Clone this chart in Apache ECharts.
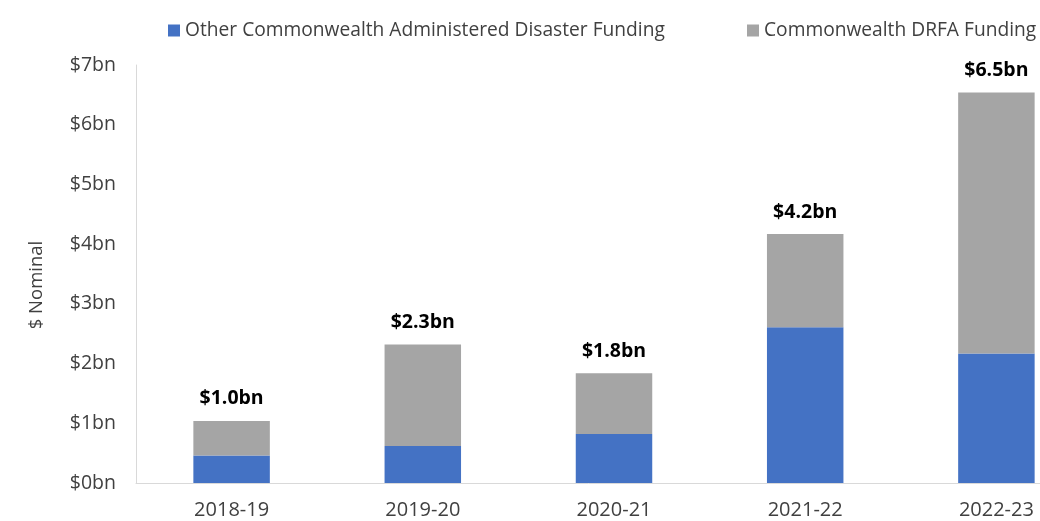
<!DOCTYPE html>
<html>
<head>
<meta charset="utf-8">
<script src="https://cdn.jsdelivr.net/npm/echarts@6/dist/echarts.min.js"></script>
<style>
  html, body { margin: 0; padding: 0; background: #fff; }
  #chart { width: 1040px; height: 521px; }
</style>
</head>
<body>
<div id="chart"></div>
<script>
// Financial years on the category axis
const years = ['2018-19', '2019-20', '2020-21', '2021-22', '2022-23'];
// Funding components, $bn nominal
const otherFunding = [0.46, 0.62, 0.82, 2.61, 2.17];
const drfaFunding = [0.58, 1.70, 1.02, 1.56, 4.37];
// Y-axis tick range, $bn
const yTicks = [0, 1, 2, 3, 4, 5, 6, 7];

const seriesNames = ['Other Commonwealth Administered Disaster Funding', 'Commonwealth DRFA Funding'];
const totals = years.map((_, i) => otherFunding[i] + drfaFunding[i]);

const FONT = '"Open Sans", "Noto Sans", sans-serif';
const FS = 19.5;
const chart = echarts.init(document.getElementById('chart'));

chart.setOption({
  animation: false,
  textStyle: { fontFamily: FONT },
  legend: [
    {
      data: [seriesNames[0]],
      left: 163, top: 16,
      icon: 'rect', itemWidth: 12, itemHeight: 12, itemGap: 6,
      textStyle: { fontFamily: FONT, fontSize: 19.2, color: '#404040' }
    },
    {
      data: [seriesNames[1]],
      left: 742, top: 16,
      icon: 'rect', itemWidth: 12, itemHeight: 12, itemGap: 6,
      textStyle: { fontFamily: FONT, fontSize: 19.2, color: '#404040' }
    }
  ],
  // plot area runs past the right edge of the canvas
  grid: {
    left: 136, width: 956, top: 65, bottom: 38,
    containLabel: false,
    outerBoundsMode: 'none'
  },
  xAxis: {
    type: 'category',
    data: years,
    axisLine: { lineStyle: { color: '#d9d9d9' } },
    axisTick: { show: false },
    axisLabel: { fontFamily: FONT, fontSize: 20, color: '#404040', margin: 17 }
  },
  yAxis: {
    type: 'value',
    min: yTicks[0],
    max: yTicks[yTicks.length - 1],
    interval: 1,
    name: '$ Nominal',
    nameLocation: 'middle',
    nameGap: 90,
    nameRotate: 90,
    nameTextStyle: {
      fontFamily: FONT, fontSize: 18.5, color: '#404040',
      padding: [0, 22, 0, 0]
    },
    axisLine: { show: true, lineStyle: { color: '#d9d9d9' } },
    axisTick: { show: false },
    splitLine: { show: false },
    axisLabel: {
      fontFamily: FONT, fontSize: FS, color: '#404040', margin: 20,
      formatter: v => '$' + v + 'bn'
    }
  },
  series: [
    {
      name: seriesNames[0],
      type: 'bar',
      stack: 'funding',
      data: otherFunding,
      barCategoryGap: '60%',
      itemStyle: { color: '#4472C4' }
    },
    {
      name: seriesNames[1],
      type: 'bar',
      stack: 'funding',
      data: drfaFunding,
      barCategoryGap: '60%',
      itemStyle: { color: '#A5A5A5' },
      label: {
        show: true,
        position: 'top',
        distance: 12,
        fontFamily: FONT,
        fontSize: FS,
        fontWeight: 'bold',
        color: '#000',
        formatter: p => '$' + totals[p.dataIndex].toFixed(1) + 'bn'
      }
    }
  ]
});
</script>
</body>
</html>
